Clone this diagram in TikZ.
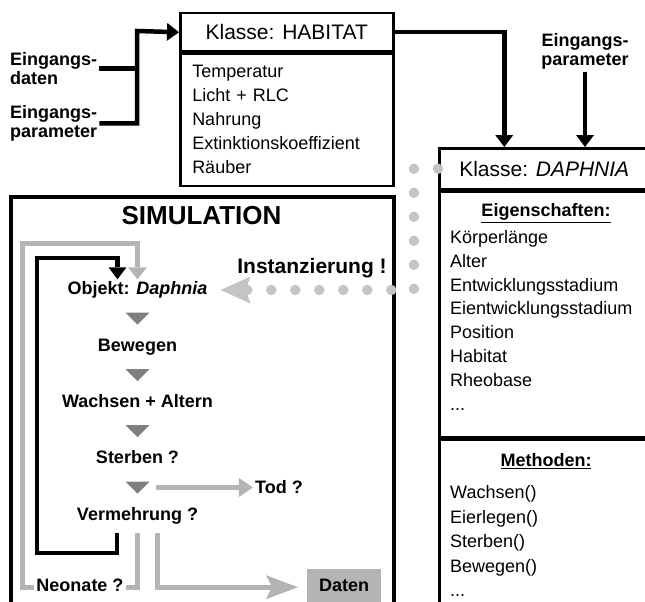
\documentclass[tikz,border=0pt]{standalone}
\usepackage{fontspec}
\setmainfont{Liberation Sans}
\usetikzlibrary{arrows.meta, calc}
\definecolor{linegray}{HTML}{B4B4B4}
\definecolor{trigray}{HTML}{7F7F7F}
\definecolor{dotgray}{HTML}{C4C4C4}

\begin{document}
\begin{tikzpicture}[x=1pt, y=-1pt,
	every node/.style={font=\fontsize{18}{24}\selectfont, inner sep=2pt},
	classhead/.style={draw, line width=2.5pt, font=\fontsize{21}{24}\selectfont},
	classpart/.style={draw, line width=2.5pt},
	item/.style={anchor=base west, inner sep=0pt},
	heading/.style={anchor=base, font=\fontsize{18}{24}\selectfont\bfseries},
	flow/.style={font=\fontsize{18}{24}\selectfont\bfseries, text height=13pt, text depth=4pt},
	inlabel/.style={align=left, font=\fontsize{18}{19.5}\selectfont\bfseries},
	bline/.style={line width=4.5pt},
	barrow/.style={bline, -{Triangle[length=12pt, width=18pt, line width=0pt]}},
	gline/.style={draw=linegray, line width=5pt},
	garrow/.style={gline, -{Triangle[length=12pt, width=19pt, line width=0pt]}},
	dotline/.style={draw=dotgray, line width=10.5pt, line cap=round, dash pattern=on 0pt off 24pt,
		shorten >=11pt, -{Stealth[length=30pt, width=27pt, inset=5pt, line width=0pt]}}]
	\useasboundingbox (0,0) rectangle (645,602);
	\clip (0,0) rectangle (645,602);

	% Klasse HABITAT
	\node (habhead) [classhead, minimum width=213pt, minimum height=38pt, anchor=north west] at (179,12) {Klasse: HABITAT};
	\node (habbody) [classpart, anchor=north, minimum height=132pt, text width=189pt, inner xsep=12pt, align=left] at (habhead.south)
		{Temperatur\\Licht + RLC\\Nahrung\\Extinktionskoeffizient\\Räuber};

	% Klasse DAPHNIA
	\node (daphead) [classhead, minimum width=210pt, minimum height=41pt, anchor=north west] at (438,147) {Klasse: \textit{DAPHNIA}};
	\node (dapattr) [classpart, minimum width=210pt, minimum height=245pt, anchor=north] at (daphead.south) {};
	\node (dapmeth) [classpart, minimum width=210pt, minimum height=200pt, anchor=north] at (dapattr.south) {};
	\node (eig) [heading] at (546,216.5) {\underline{Eigenschaften:}};
	\foreach \t [count=\i] in {Körperlänge, Alter, Entwicklungsstadium, Eientwicklungsstadium, Position, Habitat, Rheobase}
		\node (attr\i) [item] at (450,{243.5+23.8*(\i-1)}) {\t};
	\node (attr8) [item] at (450,410) {...};
	\node (meth) [heading] at (546,466.5) {\underline{Methoden:}};
	\foreach \t [count=\i] in {Wachsen(), Eierlegen(), Sterben(), Bewegen()}
		\node (meth\i) [item] at (450,{498.5+24.5*(\i-1)}) {\t};
	\node (meth5) [item] at (450,596.5) {...};

	% Simulation
	\node (sim) [draw, line width=4pt, minimum width=382.5pt, minimum height=440pt, anchor=north west] at (9,195) {};
	\node (simtitle) [anchor=base, font=\fontsize{26}{30}\selectfont\bfseries] at (201.5,224.5) {SIMULATION};
	\node (inst) [anchor=base, font=\fontsize{21}{24}\selectfont\bfseries] at (312,273) {Instanzierung !};
	\node (objekt) [flow] at (137.5,290) {Objekt: \textit{Daphnia}};
	\node (bew) [flow] at (137.5,347) {Bewegen};
	\node (wach) [flow] at (137.5,403) {Wachsen + Altern};
	\node (sterb) [flow] at (137.5,459) {Sterben ?};
	\node (verm) [flow] at (137.5,516) {Vermehrung ?};
	\node (tod) [flow] at (279,489) {Tod ?};
	\node (neonate) [flow] at (80,587) {Neonate ?};
	\node (daten) [flow, fill=linegray, minimum width=74pt, minimum height=36pt, anchor=north west] at (307,569) {Daten};

	\coordinate (t1) at ($(objekt.south)!0.5!(bew.north)$);
	\coordinate (t2) at ($(bew.south)!0.5!(wach.north)$);
	\coordinate (t3) at ($(wach.south)!0.5!(sterb.north)$);
	\coordinate (t4) at ($(sterb.south)!0.5!(verm.north)$);
	\foreach \k in {1,...,4}
		\fill[trigray] (t\k) ++(-12,-6) -- ++(24,0) -- ++(-12,12) -- cycle;

	% Eingaenge
	\node (lab1) [inlabel, anchor=north west] at (8,50) {Eingangs-\\daten};
	\node (lab2) [inlabel, anchor=north west] at (8,103) {Eingangs-\\parameter};
	\node (lab3) [inlabel, align=center, anchor=north] at (585,31) {Eingangs-\\parameter};
	\coordinate (fork) at (137,31);
	\draw[bline] (lab1.east) -- (lab1.east -| fork);
	\draw[barrow] (lab2.east) -| (fork) -- (habhead.west);
	\draw[barrow] (habhead.east) -| ([xshift=-40pt]daphead.north);
	\draw[barrow] (lab3.south) -- (lab3.south |- daphead.north);

	% Schleifen
	\coordinate (bloop) at (117,533);
	\coordinate (nloop) at (137,533);
	\coordinate (dloop) at (157,533);
	\draw[barrow] (bloop) -- (117,553) -- (37,553) -- (37,258) -| ([xshift=-20pt]objekt.north);
	\draw[gline] (nloop) |- (neonate.east);
	\draw[garrow] (neonate.west) -| (22,243) -| (objekt.north);
	\draw[gline, -{Stealth[length=32pt, width=24pt, inset=6pt, line width=0pt]}, shorten >=9pt] (dloop) |- (daten.west);
	\draw[gline, -{Triangle[length=14pt, width=19pt, line width=0pt]}] ([xshift=18pt]t4) -- (t4 -| tod.west);

	% Instanzierung
	\draw[dotline] (daphead.west) -- ++(-24,0) |- (objekt.east);
\end{tikzpicture}
\end{document}
